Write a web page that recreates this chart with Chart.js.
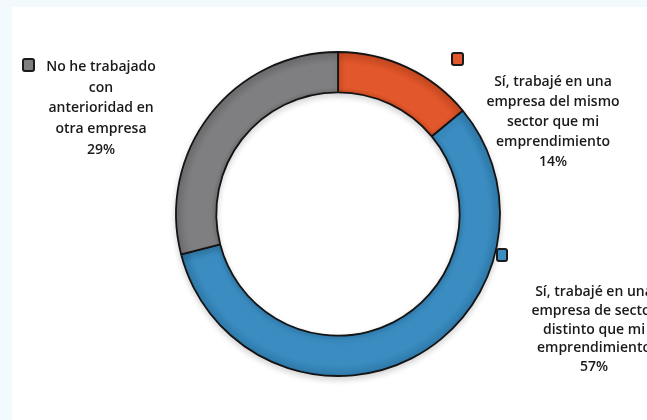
<!DOCTYPE html>
<html>
<head>
<meta charset="utf-8">
<script src="https://cdn.jsdelivr.net/npm/chart.js@4"></script>
<style>
  html, body { margin: 0; padding: 0; }
  body {
    width: 647px; height: 420px; overflow: hidden;
    background: #f3fafd;
    position: relative;
  }
  .panel {
    position: absolute; left: 12px; top: 7px; right: 0; bottom: 0;
    background: #fff;
  }
  #doughnut { position: absolute; left: 0; top: 0; }
</style>
</head>
<body>
<div class="panel"></div>
<canvas id="doughnut" width="647" height="420"></canvas>
<script>
// Survey answers, each label split into its display lines
const categories = [
  ['Sí, trabajé en una', 'empresa del mismo', 'sector que mi', 'emprendimiento'],
  ['Sí, trabajé en una', 'empresa de sector', 'distinto que mi', 'emprendimiento'],
  ['No he trabajado', 'con', 'anterioridad en', 'otra empresa']
];
const shares = [14, 57, 29];
const sliceColors = ['#e2572b', '#3a8cc1', '#7f7f81'];
const edgeColors = ['#cb4920', '#2f7aab', '#6e6e70'];

const RING_OUTER = 162;
const RING_INNER = 121;

// Where each label block sits: legend square + centred text lines
const labelBoxes = [
  { sq: [452, 53, 11, 12], cx: 553, y0: 82, lh: 20 },
  { sq: [497, 249, 10, 12], cx: 594, y0: 292, lh: 18.8 },
  { sq: [23, 59, 11, 12], cx: 101, y0: 67, lh: 20.7 }
];

// darker rim on both edges of the ring, flat colour in between
function ringFill(ctx) {
  const i = ctx.dataIndex;
  const area = ctx.chart.chartArea;
  if (!area) return sliceColors[i];
  const cx = (area.left + area.right) / 2;
  const cy = (area.top + area.bottom) / 2;
  const g = ctx.chart.ctx.createRadialGradient(cx, cy, RING_INNER, cx, cy, RING_OUTER);
  g.addColorStop(0, edgeColors[i]);
  g.addColorStop(0.14, sliceColors[i]);
  g.addColorStop(0.72, sliceColors[i]);
  g.addColorStop(1, edgeColors[i]);
  return g;
}

const calloutLabels = {
  id: 'calloutLabels',
  beforeDatasetsDraw(chart) {
    const c = chart.ctx;
    c.save();
    c.shadowColor = 'rgba(0,0,0,0.16)';
    c.shadowBlur = 6;
    c.shadowOffsetY = 3;
  },
  afterDatasetsDraw(chart) {
    const c = chart.ctx;
    c.restore();
    c.save();
    labelBoxes.forEach((box, i) => {
      const [x, y, w, h] = box.sq;
      c.beginPath();
      c.roundRect(x, y, w, h, 2);
      c.fillStyle = sliceColors[i];
      c.fill();
      c.lineWidth = 2;
      c.strokeStyle = '#1b1b1b';
      c.stroke();

      c.fillStyle = '#1a1a1a';
      c.textAlign = 'center';
      c.textBaseline = 'middle';
      c.font = '600 14px "Open Sans", sans-serif';
      const lines = categories[i].concat([shares[i] + '%']);
      lines.forEach((t, k) => c.fillText(t, box.cx, box.y0 + k * box.lh));
    });
    c.restore();
  }
};

new Chart(document.getElementById('doughnut'), {
  type: 'doughnut',
  data: {
    labels: categories.map(l => l.join(' ')),
    datasets: [{
      data: shares,
      backgroundColor: ringFill,
      borderColor: '#141414',
      borderWidth: 1.8,
      hoverOffset: 0
    }]
  },
  options: {
    responsive: false,
    animation: false,
    radius: RING_OUTER,
    cutout: RING_INNER,
    layout: { padding: { left: 176, right: 147, top: 52, bottom: 44 } },
    plugins: {
      legend: { display: false },
      tooltip: { enabled: false }
    }
  },
  plugins: [calloutLabels]
});
</script>
</body>
</html>
